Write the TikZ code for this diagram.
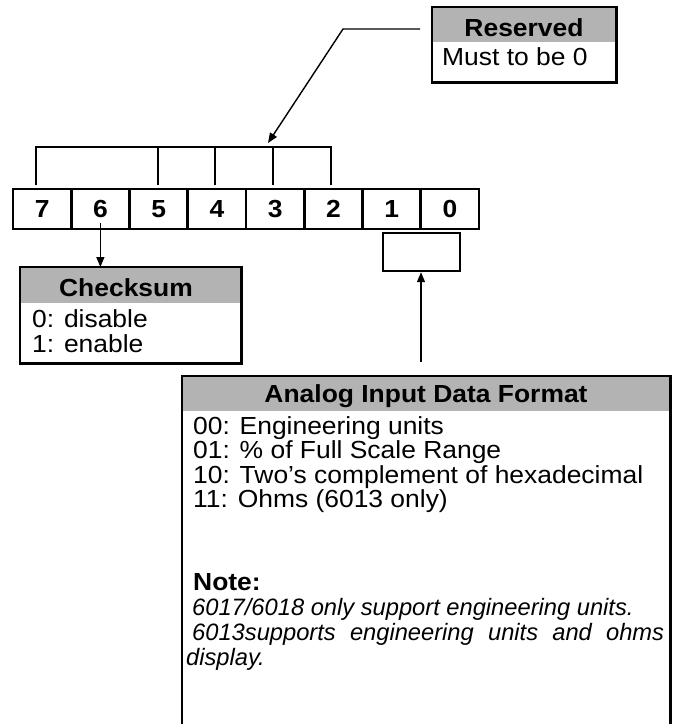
\documentclass[tikz,border=0pt]{standalone}
\usepackage{fontspec}
\setmainfont{Liberation Sans}[FakeStretch=1.07]
\newfontfamily\notefont{Liberation Sans}
\usetikzlibrary{arrows.meta,calc}
\definecolor{hdrgray}{RGB}{179,179,179}
\tikzset{
  conn/.style={line width=1.4pt},
  arr/.style={conn,-{Triangle[length=10pt,width=8pt]}},
  boxline/.style={line width=2.2pt},
  bitbox/.style={draw,line width=2.6pt,minimum width=58.25pt,minimum height=40pt,inner sep=0pt,
    font=\fontsize{24.7}{24.7}\selectfont\bfseries},
  txt/.style={inner sep=0pt,anchor=base west,font=\fontsize{24.7}{24.7}\selectfont},
  btxt/.style={txt,font=\fontsize{24.7}{24.7}\selectfont\bfseries},
  itxt/.style={txt,font=\notefont\fontsize{23.7}{23.7}\selectfont\itshape},
  htxt/.style={inner sep=0pt,anchor=base,font=\fontsize{24.7}{24.7}\selectfont\bfseries},
  frame/.style={inner sep=0pt,anchor=north west},
}
\begin{document}
\begin{tikzpicture}[x=1pt,y=-1pt]
\useasboundingbox (0,0) rectangle (675,724);
% bit boxes
\foreach \b/\i in {7/0,6/1,5/2,4/3,3/4,2/5,1/6,0/7}
  \node[bitbox] (b\b) at ({13+58.25*\i+29.125},209) {\b};
% bracket over bits 7,5..2
\coordinate (brL) at (36,147);
\coordinate (brR) at (331,147);
\coordinate (t7) at (36,185);
\coordinate (t5) at (158,185);
\coordinate (t4) at (215,185);
\coordinate (t3) at (273,185);
\coordinate (t2) at (331,185);
\draw[conn] (t7) -- (brL) -- (brR) -- (t2);
\foreach \t in {t5,t4,t3} \draw[conn] (\t) -- (\t |- brL);
% Reserved box
\node[frame,minimum width=184pt,minimum height=75pt] (res) at (432,7) {};
\fill[hdrgray] (res.north west) rectangle ($(res.north east)+(0,35)$);
\draw[boxline] (res.north west) rectangle (res.south east);
\node[htxt] (resh) at (524,36) {Reserved};
\node[txt] (resb) at (442,65) {Must to be 0};
% arrow from Reserved to bracket
\coordinate (rs1) at (420,29);
\coordinate (rs2) at (343,29);
\coordinate (rstip) at (268,143);
\draw[arr] (rs1) -- (rs2) -- (rstip);
% Checksum box
\node[frame,minimum width=221pt,minimum height=96pt] (chk) at (20,267) {};
\fill[hdrgray] (chk.north west) rectangle ($(chk.north east)+(0,35.5)$);
\draw[boxline] (chk.north west) rectangle (chk.south east);
\node[htxt] (chkh) at (126,296) {Checksum};
\node[txt] (chk0) at (32,327.5) {0: disable};
\node[txt] (chk1) at (32,352) {1: enable};
\draw[arr] ([yshift=-14pt]b6.center) -- (b6.center |- chk.north);
% selector box under bits 1..0
\node[frame,draw,boxline,minimum width=77pt,minimum height=38pt] (sel) at (382,232) {};
% Analog Input Data Format box
\node[frame,minimum width=488pt,minimum height=370pt] (afmt) at (182,376) {};
\fill[hdrgray] (afmt.north west) rectangle ($(afmt.north east)+(0,35)$);
\draw[boxline] (afmt.south west) |- (afmt.north east) -- (afmt.south east);
\coordinate (afoot) at (421,362);
\draw[arr] (afoot) -- (afoot |- sel.south);
\node[htxt] (afh) at (426,402) {Analog Input Data Format};
\node[txt] (af0) at (193,434) {00: Engineering units};
\node[txt] (af1) at (193,458) {01: \% of Full Scale Range};
\node[txt] (af2) at (193,483) {10: Two’s complement of hexadecimal};
\node[txt] (af3) at (193,507) {11: Ohms (6013 only)};
\node[btxt] (note) at (193,590) {Note:};
\node[itxt] (n1) at (192,615) {6017/6018 only support engineering units.};
\node[itxt] (n2) at (192,640) {\hbox to 472pt{6013supports\hfill engineering\hfill units\hfill and\hfill ohms}};
\node[itxt] (n3) at (186,665) {display.};
\end{tikzpicture}
\end{document}
